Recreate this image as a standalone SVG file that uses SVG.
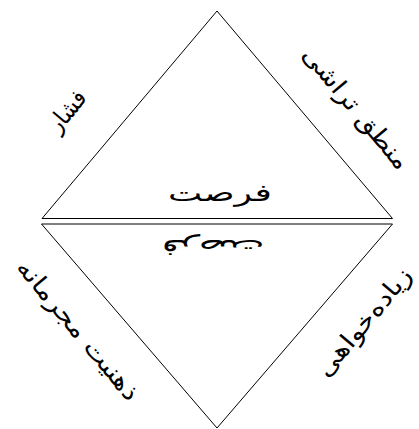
<svg xmlns="http://www.w3.org/2000/svg" width="419" height="429" viewBox="0 0 419 429">
<style>
.edge{fill:none;stroke:#000;stroke-width:1}
.lbl{font-family:"DejaVu Sans","Noto Sans",sans-serif;font-size:24px;fill:#000;text-anchor:middle}
</style>
<rect width="419" height="429" fill="#fff"/>
<g id="connectors">
<path class="edge" d="M217,11 L42,218.5 L392.5,218.5 Z"/>
<path class="edge" d="M41.5,224 L392.5,224 L217,428 Z"/>
</g>
<g id="node-top-center"><text class="lbl" x="220" y="201" textLength="104" lengthAdjust="spacingAndGlyphs">فرصت</text></g>
<g id="node-bottom-center"><text class="lbl" transform="translate(213,240) rotate(180)" x="0" y="0" textLength="102" lengthAdjust="spacingAndGlyphs">فرصت</text></g>
<g id="node-top-left"><text class="lbl" transform="translate(67,111) rotate(-50)" x="0" y="8" textLength="46" lengthAdjust="spacingAndGlyphs">فشار</text></g>
<g id="node-top-right"><text class="lbl" transform="translate(356,108) rotate(50)" x="0" y="8" textLength="152" lengthAdjust="spacingAndGlyphs">منطق تراشی</text></g>
<g id="node-bottom-left"><text class="lbl" transform="translate(78,330) rotate(50)" x="0" y="8" textLength="176" lengthAdjust="spacingAndGlyphs">ذهنیت مجرمانه</text></g>
<g id="node-bottom-right"><text class="lbl" transform="translate(364,322) rotate(-50)" x="0" y="8" textLength="134" lengthAdjust="spacingAndGlyphs">زیاده‌خواهی</text></g>
</svg>
